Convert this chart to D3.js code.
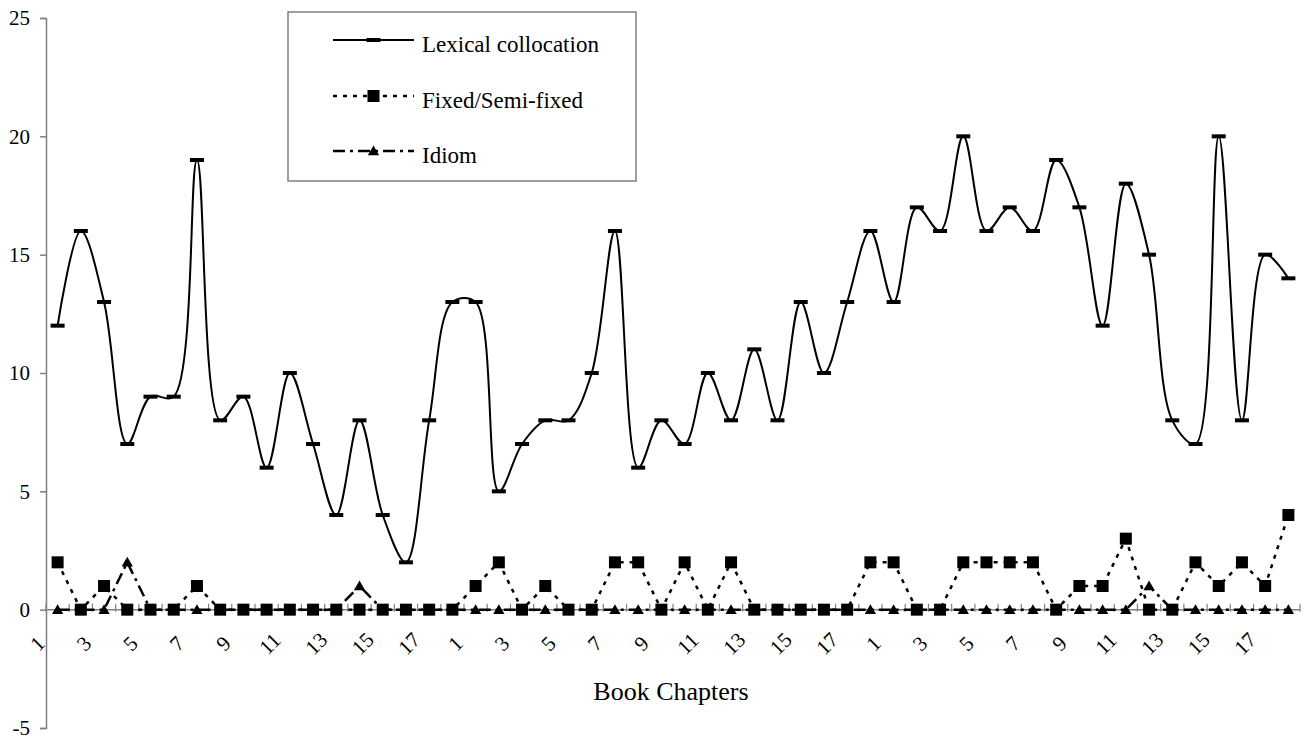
<!DOCTYPE html>
<html>
<head>
<meta charset="utf-8">
<script src="https://cdn.jsdelivr.net/npm/d3@7"></script>
<style>
  html, body { margin: 0; padding: 0; background: #fff; }
  svg { display: block; }
  svg text { font-family: "Liberation Serif", "Times New Roman", "DejaVu Serif", serif !important; fill: #000; }
</style>
</head>
<body>
<svg id="chart" width="1314" height="740"></svg>
<script>
// ---- Data ----
const chapters = [
  1,2,3,4,5,6,7,8,9,10,11,12,13,14,15,16,17,18,
  1,2,3,4,5,6,7,8,9,10,11,12,13,14,15,16,17,18,
  1,2,3,4,5,6,7,8,9,10,11,12,13,14,15,16,17,18
];
const seriesNames = ["Lexical collocation", "Fixed/Semi-fixed", "Idiom"];
const lexical = [
  12,16,13,7,9,9,19,8,9,6,10,7,4,8,4,2,8,13,
  13,5,7,8,8,10,16,6,8,7,10,8,11,8,13,10,13,16,
  13,17,16,20,16,17,16,19,17,12,18,15,8,7,20,8,15,14
];
const fixed = [
  2,0,1,0,0,0,1,0,0,0,0,0,0,0,0,0,0,0,
  1,2,0,1,0,0,2,2,0,2,0,2,0,0,0,0,0,2,
  2,0,0,2,2,2,2,0,1,1,3,0,0,2,1,2,1,4
];
const idiom = [
  0,0,0,2,0,0,0,0,0,0,0,0,0,1,0,0,0,0,
  0,0,0,0,0,0,0,0,0,0,0,0,0,0,0,0,0,0,
  0,0,0,0,0,0,0,0,0,0,0,1,0,0,0,0,0,0
];
const yTicks = [-5, 0, 5, 10, 15, 20, 25];
const xTitle = "Book Chapters";

// ---- Layout ----
const FONT = "'Liberation Serif', 'Times New Roman', 'DejaVu Serif', serif";
const svg = d3.select("#chart");
const mLeft = 46, mRight = 1300, mTop = 18, mBottom = 728;
const idx = d3.range(chapters.length);
const x = d3.scaleBand().domain(idx).range([mLeft, mRight]).paddingInner(0).paddingOuter(0);
const bw = x.bandwidth();
const cx = i => x(i) + bw / 2;
const y = d3.scaleLinear().domain([-5, 25]).range([mBottom, mTop]);
const axisColor = "#808080";

// Y axis
const yAxis = d3.axisLeft(y).tickValues(yTicks).tickSize(6).tickPadding(10).tickFormat(d => String(d));
const gy = svg.append("g").attr("transform", `translate(${mLeft},0)`).call(yAxis)
  .attr("font-family", FONT);
gy.select(".domain").attr("stroke", axisColor).attr("stroke-width", 1.5);
gy.selectAll(".tick line").attr("stroke", axisColor).attr("stroke-width", 1.5);
gy.selectAll(".tick text")
  .attr("font-family", FONT)
  .attr("font-size", 21)
  .attr("fill", "#000");

// X axis at y = 0
const y0 = y(0);
const gx = svg.append("g").attr("font-family", FONT);
gx.append("line").attr("x1", mLeft).attr("x2", mRight).attr("y1", y0).attr("y2", y0)
  .attr("stroke", axisColor).attr("stroke-width", 1.5);
const bounds = idx.map(i => x(i)).concat([mRight]);
gx.selectAll("line.xt").data(bounds).enter().append("line")
  .attr("class", "xt")
  .attr("x1", d => d).attr("x2", d => d)
  .attr("y1", y0 - 6).attr("y2", y0 + 2)
  .attr("stroke", axisColor).attr("stroke-width", 1.2);
gx.selectAll("text.xl").data(idx.filter(i => i % 2 === 0)).enter().append("text")
  .attr("class", "xl")
  .attr("font-family", FONT)
  .attr("font-size", 21)
  .attr("text-anchor", "middle")
  .attr("dominant-baseline", "central")
  .attr("transform", i => `translate(${cx(i) - 20},${y0 + 34}) rotate(-45)`)
  .text(i => chapters[i]);

// X title
svg.append("text").attr("x", 671).attr("y", 700).attr("font-family", FONT)
  .attr("text-anchor", "middle").attr("font-size", 26).text(xTitle);

// ---- Series ----
const smooth = d3.line().x((d, i) => cx(i)).y(d => y(d)).curve(d3.curveCatmullRom.alpha(0.5));
const straight = d3.line().x((d, i) => cx(i)).y(d => y(d));

// Idiom (dash-dot)
svg.append("path").attr("d", straight(idiom)).attr("fill", "none")
  .attr("stroke", "#000").attr("stroke-width", 2.5).attr("stroke-dasharray", "12,5,3,5");
// Fixed (dotted)
svg.append("path").attr("d", straight(fixed)).attr("fill", "none")
  .attr("stroke", "#000").attr("stroke-width", 2.5).attr("stroke-dasharray", "4,6");
// Lexical (smoothed solid)
svg.append("path").attr("d", smooth(lexical)).attr("fill", "none")
  .attr("stroke", "#000").attr("stroke-width", 2);

const tri = d3.symbol().type(d3.symbolTriangle).size(55);
function drawTri(g, px, py) {
  g.append("path").attr("d", tri()).attr("transform", `translate(${px},${py + 1})`).attr("fill", "#000");
}
function drawSq(g, px, py) {
  g.append("rect").attr("x", px - 6).attr("y", py - 6).attr("width", 12).attr("height", 12).attr("fill", "#000");
}
function drawDash(g, px, py) {
  g.append("rect").attr("x", px - 7).attr("y", py - 2).attr("width", 14).attr("height", 4).attr("fill", "#000");
}

const gm = svg.append("g");
idiom.forEach((v, i) => drawTri(gm, cx(i), y(v)));
fixed.forEach((v, i) => drawSq(gm, cx(i), y(v)));
lexical.forEach((v, i) => drawDash(gm, cx(i), y(v)));

// ---- Legend ----
const lg = svg.append("g").attr("font-family", FONT);
lg.append("rect").attr("x", 288).attr("y", 12).attr("width", 348).attr("height", 169)
  .attr("fill", "#fff").attr("stroke", axisColor).attr("stroke-width", 1.5);
const legendRows = [
  { name: seriesNames[0], yy: 40, dash: null, w: 2, mark: drawDash },
  { name: seriesNames[1], yy: 96, dash: "4,6", w: 2.5, mark: drawSq },
  { name: seriesNames[2], yy: 151, dash: "12,5,3,5", w: 2.5, mark: drawTri }
];
legendRows.forEach(r => {
  const l = lg.append("line").attr("x1", 333).attr("x2", 414).attr("y1", r.yy).attr("y2", r.yy)
    .attr("stroke", "#000").attr("stroke-width", r.w);
  if (r.dash) l.attr("stroke-dasharray", r.dash);
  r.mark(lg, 373.5, r.yy);
  lg.append("text").attr("x", 422).attr("y", r.yy + 4).attr("dominant-baseline", "central")
    .attr("font-family", FONT).attr("font-size", 23).text(r.name);
});
</script>
</body>
</html>
